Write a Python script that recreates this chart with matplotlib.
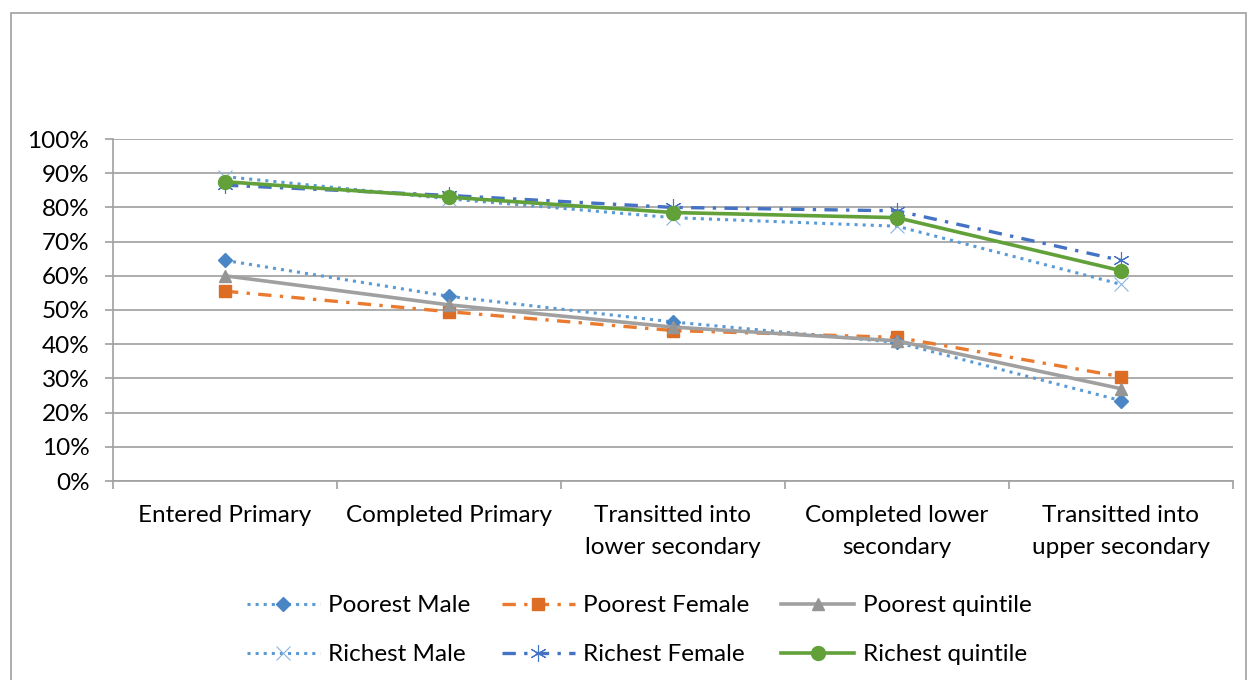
import matplotlib.pyplot as plt
from matplotlib.patches import Rectangle
from matplotlib.ticker import PercentFormatter

plt.rcParams['font.family'] = ['Lato', 'DejaVu Sans']

# データ
stages = ['Entered Primary', 'Completed Primary', 'Transitted into\nlower secondary',
          'Completed lower\nsecondary', 'Transitted into\nupper secondary']
poorest_male = [64.5, 54.0, 46.5, 40.5, 23.5]
poorest_female = [55.5, 49.5, 44.0, 42.0, 30.5]
poorest_quintile = [60.0, 51.5, 45.0, 41.0, 27.0]
richest_male = [89.0, 82.5, 77.0, 74.5, 57.5]
richest_female = [86.5, 83.5, 80.0, 79.0, 64.5]
richest_quintile = [87.5, 83.0, 78.5, 77.0, 61.5]

fig = plt.figure(figsize=(12.48, 6.8), dpi=100)
ax = fig.add_axes([113 / 1248, 1 - 481 / 680, 1120 / 1248, 342 / 680])

# 外枠
fig.patches.append(Rectangle((11 / 1248, -0.01), 1235 / 1248, 1 - 13 / 680 + 0.01,
                             transform=fig.transFigure, fill=False,
                             edgecolor='#a0a0a0', linewidth=1.2, zorder=0))

x = range(len(stages))
dashdot = (0, (4, 2.5, 1, 2.5))

ax.plot(x, poorest_male, linestyle=':', color='#5b9bd5', linewidth=2.2,
        marker='D', markersize=7, markerfacecolor='#4a86c5', markeredgecolor='#4a86c5',
        label='Poorest Male', zorder=4)
ax.plot(x, poorest_female, linestyle=dashdot, color='#e97a2f', linewidth=2.4,
        marker='s', markersize=9, markerfacecolor='#dd6d24', markeredgecolor='#dd6d24',
        label='Poorest Female', zorder=3)
ax.plot(x, poorest_quintile, linestyle='-', color='#a0a0a0', linewidth=2.6,
        marker='^', markersize=9, markerfacecolor='#959595', markeredgecolor='#959595',
        label='Poorest quintile', zorder=5)
ax.plot(x, richest_male, linestyle=':', color='#5b9bd5', linewidth=2.2,
        marker='x', markersize=10, markeredgewidth=0.8, markeredgecolor='#8ab4e0',
        label='Richest Male', zorder=3)
ax.plot(x, richest_female, linestyle=dashdot, color='#4472c4', linewidth=2.4,
        marker=(6, 2, 0), markersize=12, markeredgewidth=0.8, markeredgecolor='#4472c4',
        label='Richest Female', zorder=4)
ax.plot(x, richest_quintile, linestyle='-', color='#62a03a', linewidth=2.6,
        marker='o', markersize=10, markerfacecolor='#62a03a', markeredgecolor='#62a03a',
        label='Richest quintile', zorder=5)

# 軸の設定
ax.set_xlim(-0.5, len(stages) - 0.5)
ax.set_ylim(0, 100)
ax.set_yticks(range(0, 101, 10))
ax.yaxis.set_major_formatter(PercentFormatter(decimals=0))
ax.grid(axis='y', color='#a6a6a6', linewidth=1.3)
ax.set_axisbelow(True)

ax.set_xticks(list(x))
ax.set_xticklabels(stages, fontsize=17.5, linespacing=1.6)
ax.set_xticks([i - 0.5 for i in range(len(stages) + 1)], minor=True)
ax.tick_params(axis='x', which='major', length=0, pad=17.5)
ax.tick_params(axis='x', which='minor', length=6, color='#a0a0a0', width=1.2)
ax.tick_params(axis='y', length=6, color='#a0a0a0', width=1.2, labelsize=17.5, pad=11)

for side in ['top', 'right']:
    ax.spines[side].set_visible(False)
for side in ['left', 'bottom']:
    ax.spines[side].set_color('#a0a0a0')
    ax.spines[side].set_linewidth(1.2)

# 凡例は行ごとに並べる（matplotlibは列優先なので並べ替え）
handles, labels = ax.get_legend_handles_labels()
order = [0, 3, 1, 4, 2, 5]
fig.legend([handles[i] for i in order], [labels[i] for i in order],
           loc='upper center', bbox_to_anchor=(0.512, 0.157), ncol=3, frameon=False,
           fontsize=17.5, handlelength=3.0, handletextpad=0.35, columnspacing=1.3,
           labelspacing=1.15)

plt.savefig('out.png', dpi=100)
